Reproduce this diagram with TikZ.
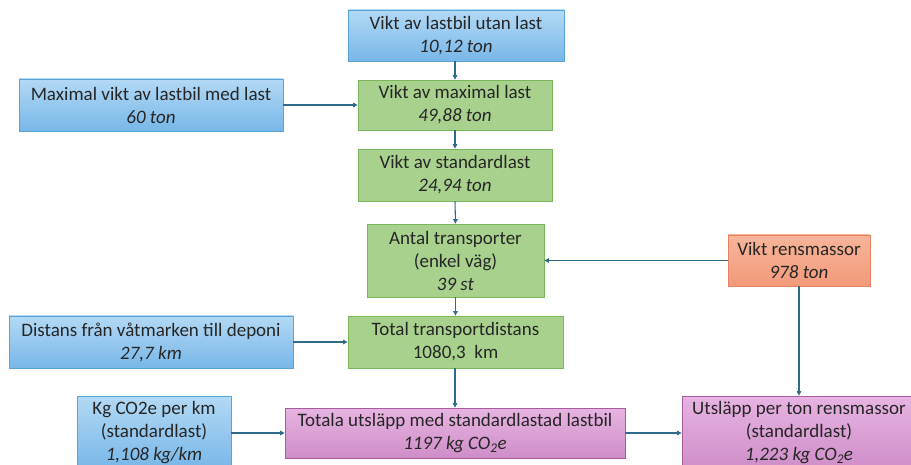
\documentclass[tikz,border=0pt]{standalone}
\usepackage{fontspec}
\setmainfont{Carlito}
\usetikzlibrary{arrows.meta}
\definecolor{bluetop}{HTML}{B3D9F5}
\definecolor{bluebot}{HTML}{78B7E8}
\definecolor{blueedge}{HTML}{5AA3D6}
\definecolor{greenfill}{HTML}{A9D18E}
\definecolor{greenedge}{HTML}{7CB65A}
\definecolor{orangetop}{HTML}{F7B59A}
\definecolor{orangebot}{HTML}{F29A7A}
\definecolor{orangeedge}{HTML}{E58360}
\definecolor{purptop}{HTML}{E7B4E2}
\definecolor{purpbot}{HTML}{CF8DC8}
\definecolor{purpedge}{HTML}{A65C9E}
\definecolor{arrowcol}{HTML}{2F6A8A}
\tikzset{
  box/.style={rectangle, align=center, inner sep=0pt, line width=0.8pt,
    font=\fontsize{19}{23}\selectfont, text=black!85},
  bluebox/.style={box, draw=blueedge, top color=bluetop, bottom color=bluebot},
  greenbox/.style={box, draw=greenedge, fill=greenfill},
  orangebox/.style={box, draw=orangeedge, top color=orangetop, bottom color=orangebot},
  purpbox/.style={box, draw=purpedge, top color=purptop, bottom color=purpbot},
  conn/.style={draw=arrowcol, line width=1.1pt, -{Triangle[length=4.5pt,width=4.5pt]}}
}
\begin{document}
\begin{tikzpicture}[x=1pt,y=-1pt]
\useasboundingbox (0,0) rectangle (911,465);
\clip (0,0) rectangle (911,465);
\node[bluebox, minimum width=216pt, minimum height=51pt] (b1) at (456,35.5)
  {Vikt av lastbil utan last\\\textit{10,12 ton}};
\node[greenbox, minimum width=194pt, minimum height=50pt] (b2) at (455,105)
  {Vikt av maximal last\\\textit{49,88 ton}};
\node[bluebox, minimum width=264pt, minimum height=52pt] (b3) at (151,105)
  {Maximal vikt av lastbil med last\\\textit{60 ton}};
\node[greenbox, minimum width=194pt, minimum height=52pt] (b4) at (455,175)
  {Vikt av standardlast\\\textit{24,94 ton}};
\node[greenbox, minimum width=177pt, minimum height=73pt] (b5) at (455.5,260.5)
  {Antal transporter\\(enkel väg)\\\textit{39 st}};
\node[orangebox, minimum width=142pt, minimum height=51pt] (b6) at (799,260.5)
  {Vikt rensmassor\\\textit{978 ton}};
\node[greenbox, minimum width=215pt, minimum height=52pt] (b7) at (455.5,342)
  {Total transportdistans\\1080,3\ \ km};
\node[bluebox, minimum width=154pt, minimum height=73pt] (b9) at (154,432.5)
  {Kg CO2e per km\\(standardlast)\\\textit{1,108 kg/km}};
\node[bluebox, minimum width=284pt, minimum height=52pt] (b8) at (151,342)
  {Distans från våtmarken till deponi\\\textit{27,7 km}};
\node[purpbox, minimum width=340pt, minimum height=50pt] (b10) at (455,433)
  {Totala utsläpp med standardlastad lastbil\\\textit{1197 kg CO\textsubscript{2}e}};
\node[purpbox, minimum width=234pt, minimum height=73pt] (b11) at (799,432.5)
  {Utsläpp per ton rensmassor\\(standardlast)\\\textit{1,223 kg CO\textsubscript{2}e}};
\draw[conn] (b1.south -| b2.north) -- (b2.north);
\draw[conn] (b3.east) -- (b2.west);
\draw[conn] (b2.south) -- (b4.north);
\draw[conn] (b4.south) -- (b5.north);
\draw[conn] (b6.west) -- (b5.east);
\draw[conn] (b5.south) -- (b7.north);
\draw[conn] (b8.east) -- (b7.west);
\draw[conn] (b7.south -| b10.north) -- (b10.north);
\draw[conn] (b9.east |- b10.west) -- (b10.west);
\draw[conn] (b10.east) -- (b11.west |- b10.east);
\draw[conn] (b6.south) -- (b6.south |- b11.north);
\end{tikzpicture}
\end{document}
